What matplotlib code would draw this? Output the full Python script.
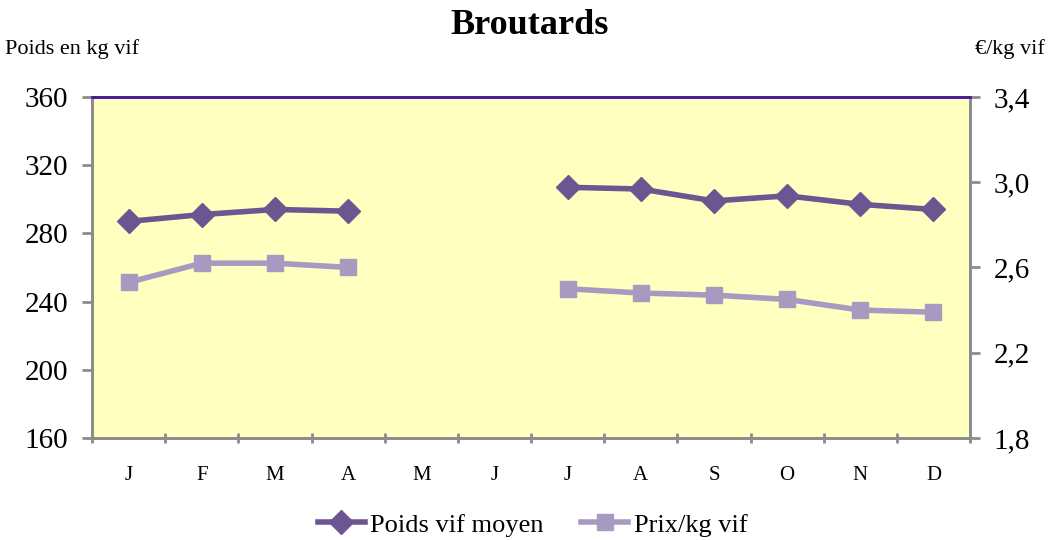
import numpy as np
import matplotlib
matplotlib.use('Agg')
import matplotlib.pyplot as plt
from matplotlib.ticker import FuncFormatter

plt.rcParams['font.family'] = ['Liberation Serif', 'DejaVu Serif']

mois = ['J', 'F', 'M', 'A', 'M', 'J', 'J', 'A', 'S', 'O', 'N', 'D']
# pas de donnees en mai et juin
poids = [287, 291, 294, 293, np.nan, np.nan, 307, 306, 299, 302, 297, 294]
prix = [2.53, 2.62, 2.62, 2.60, np.nan, np.nan, 2.50, 2.48, 2.47, 2.45, 2.40, 2.39]

col_poids = '#6c5590'
col_prix = '#a899c0'
gris = '#8c8c8c'

fig = plt.figure(figsize=(10.48, 5.4), dpi=100)
ax = fig.add_axes([0.0878, 0.189, 0.8378, 0.6315])
ax2 = ax.twinx()

x = np.arange(len(mois))
l1, = ax.plot(x, poids, color=col_poids, lw=4, marker='D', ms=12, label='Poids vif moyen')
l2, = ax2.plot(x, prix, color=col_prix, lw=4, marker='s', ms=12, label='Prix/kg vif')

ax.set_facecolor('#ffffc0')
ax.set_xlim(-0.5, 11.5)
ax.set_ylim(160, 360)
ax.set_yticks(np.arange(160, 361, 40))
ax2.set_ylim(1.8, 3.4)
ax2.set_yticks([1.8, 2.2, 2.6, 3.0, 3.4])
ax2.yaxis.set_major_formatter(FuncFormatter(lambda v, p: ('%.1f' % v).replace('.', ',')))

# graduations entre les mois
ax.set_xticks(np.arange(-0.5, 12, 1))
ax.set_xticklabels([])
ax.set_xticks(x, minor=True)
ax.set_xticklabels(mois, minor=True, fontsize=15)
ax.tick_params(axis='x', which='minor', length=0, pad=20)
ax.tick_params(axis='x', which='major', length=7, width=2, color=gris, direction='inout')

for a in (ax, ax2):
    for s in ('left', 'right', 'bottom'):
        a.spines[s].set_color(gris)
        a.spines[s].set_linewidth(2)
    a.spines['top'].set_color('#4a1a9a')
    a.spines['top'].set_linewidth(2)
ax.tick_params(axis='y', length=7, width=2, color=gris, direction='out', labelsize=21, pad=10)
ax2.tick_params(axis='y', length=7, width=2, color=gris, direction='out', labelsize=21, pad=10)

fig.text(0.505, 0.952, 'Broutards', ha='center', va='center', fontsize=26, fontweight='bold')
fig.text(0.005, 0.91, 'Poids en kg vif', ha='left', va='center', fontsize=16)
fig.text(0.997, 0.91, '€/kg vif', ha='right', va='center', fontsize=16)

fig.legend(handles=[l1, l2], loc='center', bbox_to_anchor=(0.508, 0.028), ncol=2,
           frameon=False, fontsize=19, handlelength=1.8, columnspacing=1.4, handletextpad=0.2)

fig.savefig('out.png', dpi=100)
